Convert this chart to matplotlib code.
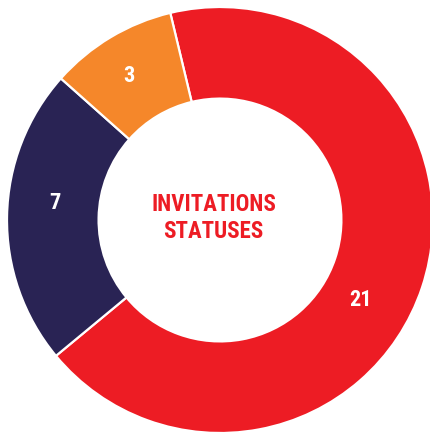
import matplotlib
matplotlib.use("Agg")
import matplotlib.pyplot as plt
import numpy as np

categories = ["Status A", "Status B", "Status C"]
values = [21, 7, 3]
colors = ["#ED1C24", "#292354", "#F5872A"]
value_labels = ["21", "7", "3"]
center_title = "INVITATIONS\nSTATUSES"

W, H = 430, 433
cx, cy, R = 220, 220, 213
fig = plt.figure(figsize=(W / 100, H / 100), dpi=100)
ax = fig.add_axes([0, 0, 1, 1])

font = ["Liberation Sans Narrow", "Roboto Condensed", "Roboto", "DejaVu Sans"]

wedges, _ = ax.pie(values, colors=colors, startangle=103.5, counterclock=False,
                   radius=1.0, wedgeprops=dict(width=0.43, edgecolor="white", linewidth=1.6))

# label positions (angle in degrees, radius fraction)
label_pos = [(-29.7, 0.76), (174.0, 0.78), (122.4, 0.80)]
for txt, (ang, r) in zip(value_labels, label_pos):
    a = np.deg2rad(ang)
    ax.text(r * np.cos(a), r * np.sin(a), txt, ha="center", va="center",
            color="white", fontsize=16, fontweight="bold", family=font)

ax.text(-0.03, 0.01, center_title, ha="center", va="center", color="#ED1C24",
        fontsize=16.5, fontweight="bold", family=font, linespacing=1.2)

ax.set_xlim(-cx / R, (W - cx) / R)
ax.set_ylim(-(H - cy) / R, cy / R)
ax.set_aspect("auto")
ax.axis("off")
fig.savefig("out.png", dpi=100, facecolor="white")
